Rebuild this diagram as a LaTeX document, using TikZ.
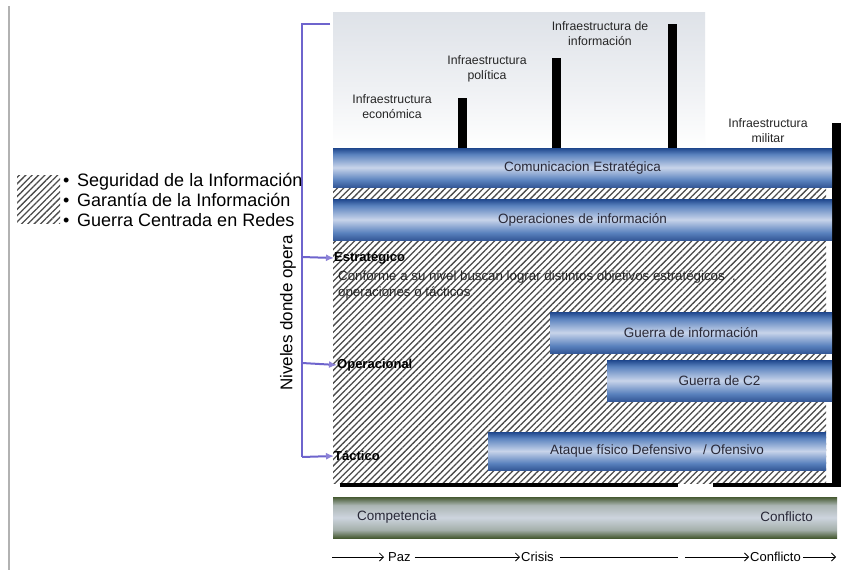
\documentclass[tikz,border=0pt]{standalone}
\usepackage{fontspec}
\setmainfont{Liberation Sans}
\usetikzlibrary{patterns.meta,arrows.meta}
\definecolor{purp}{RGB}{110,100,205}
\definecolor{purpl}{RGB}{140,130,215}
\definecolor{bdark}{RGB}{30,70,140}
\definecolor{bmid}{RGB}{90,130,190}
\definecolor{blight}{RGB}{200,212,234}
\definecolor{gdark}{RGB}{70,90,50}
\definecolor{glight}{RGB}{205,212,222}
\definecolor{hatchc}{RGB}{75,75,75}
\definecolor{txt}{RGB}{40,40,55}
\definecolor{topgray}{RGB}{222,226,232}
% note: y axis is flipped in the picture, so 0bp is the top edge on the page
\pgfdeclareverticalshading{blueband}{100bp}{color(0bp)=(bdark!90!white); color(25bp)=(bdark!90!white); color(34bp)=(bmid); color(50bp)=(blight); color(67bp)=(bmid); color(75bp)=(bdark); color(100bp)=(bdark)}
\pgfdeclareverticalshading{greenband}{100bp}{color(0bp)=(gdark); color(25bp)=(gdark); color(35bp)=(glight!70!gdark); color(50bp)=(glight); color(65bp)=(glight!75!gdark); color(75bp)=(gdark); color(100bp)=(gdark)}
\pgfdeclareverticalshading{topfade}{100bp}{color(0bp)=(white); color(25bp)=(white); color(45bp)=(topgray!45!white); color(75bp)=(topgray); color(100bp)=(topgray)}
\tikzset{
  band/.style={shading=blueband, draw=none, inner sep=0pt, outer sep=0pt, anchor=north west,
    font=\fontsize{13.5}{15}\selectfont, text=txt},
  gband/.style={shading=greenband, draw=none, inner sep=0pt, outer sep=0pt, anchor=north west},
  gtext/.style={font=\fontsize{13.5}{15}\selectfont, text=txt, inner sep=0pt},
  infra/.style={font=\fontsize{12.3}{15}\selectfont, align=center, text=black!85, inner sep=0pt},
  hatchfill/.style={pattern={Lines[angle=45,distance=4.5pt,line width=1.3pt]}, pattern color=hatchc},
  level/.style={font=\bfseries\fontsize{13}{15}\selectfont, anchor=west, inner sep=0pt},
  desc/.style={font=\fontsize{13.3}{16}\selectfont, anchor=west, align=left, inner sep=0pt, text=black!85},
  bracketline/.style={draw=purp, line width=2pt},
  lvlarrow/.style={draw=purp, line width=2pt, -{Latex[length=8pt,width=7pt,color=purpl]}},
  legtext/.style={font=\fontsize{18}{20}\selectfont, anchor=west, inner sep=0pt},
  axtext/.style={font=\fontsize{13}{15}\selectfont, inner sep=0pt},
  axline/.style={draw=black, line width=0.8pt, -{Straight Barb[length=4pt,width=8pt]}},
  axplain/.style={draw=black, line width=0.8pt}
}
\begin{document}
\begin{tikzpicture}[x=1pt,y=-1pt]
\useasboundingbox (0,0) rectangle (841,570);
\fill[white] (0,0) rectangle (841,570);
% left gray line
\draw[gray!60, line width=1.2pt] (9,6) -- (9,570);
% top gray area
\shade[shading=topfade] (333,12) rectangle (705,148);
% infrastructure bars
\fill[black] (458,98) rectangle (467,148);
\fill[black] (552,58) rectangle (561,148);
\fill[black] (668,24) rectangle (677,148);
\fill[black] (832,123) rectangle (841,487);
% infra labels
\node[infra] (ie) at (392,107) {Infraestructura\\económica};
\node[infra] (ip) at (487,69) {Infraestructura\\política};
\node[infra] (ii) at (600,34) {Infraestructura de\\información};
\node[infra, fill=white, minimum width=124pt, minimum height=35pt] (im) at (768,131) {Infraestructura\\militar};
% hatched region
\fill[white] (333,187) rectangle (832,483);
\fill[hatchfill] (333,187) rectangle (826,483);
% bands
\node[band, minimum width=499pt, minimum height=39pt] (com) at (333,148) {Comunicacion Estratégica};
\node[band, minimum width=499pt, minimum height=41pt] (ops) at (333,199) {Operaciones de información};
\node[band, minimum width=282pt, minimum height=41pt] (gi) at (550,312) {Guerra de información};
\node[band, minimum width=225pt, minimum height=41pt] (gc) at (607,360) {Guerra de C2};
\node[band, minimum width=338pt, minimum height=38pt] (at) at (488,432) {Ataque físico Defensivo\ \ \ / Ofensivo};
% bottom black line
\fill[black] (340,483) rectangle (678,487);
\fill[black] (713,483) rectangle (841,487);
% level labels
\node[level] (estr) at (334,258) {Estratégico};
\node[desc] (dsc) at (338,285) {Conforme a su nivel buscan lograr distintos objetivos estratégicos\ \ ,\\operaciones o tácticos};
\node[level] (oper) at (337,365) {Operacional};
\node[level] (tact) at (334,456) {Táctico};
% purple bracket
\coordinate (btop) at (330,24);
\coordinate (bv) at (302,24);
\coordinate (bE) at (302,257);
\coordinate (bO) at (302,363);
\coordinate (bT) at (302,457);
\draw[bracketline] (btop) -- (bv) -- (bT);
\draw[lvlarrow] (bE) -- (estr.west);
\draw[lvlarrow] (bO) -- (oper.west);
\draw[lvlarrow] (bT) -- (tact.west);
\node[font=\fontsize{17}{19}\selectfont, rotate=90, inner sep=0pt] (niv) at (288,313) {Niveles donde opera};
% legend
\fill[hatchfill] (17,175) rectangle (60,223);
\node[legtext] (l1) at (63,182) {\makebox[14pt][l]{\textbullet}Seguridad de la Información};
\node[legtext] (l2) at (63,200) {\makebox[14pt][l]{\textbullet}Garantía de la Información};
\node[legtext] (l3) at (63,220) {\makebox[14pt][l]{\textbullet}Guerra Centrada en Redes};
% green band
\node[gband, minimum width=504pt, minimum height=41pt] (gb) at (333,497) {};
\node[gtext, anchor=west] (compe) at (357,517) {Competencia};
\node[gtext, anchor=east] (confl) at (813,517) {Conflicto};
% axis
\coordinate (a0) at (332,557);
\node[axtext, anchor=west] (paz) at (388,557) {Paz};
\node[axtext, anchor=west] (cri) at (521,557) {Crisis};
\coordinate (g1) at (678,557);
\coordinate (g2) at (685,557);
\node[axtext, anchor=west] (con) at (750,557) {Conflicto};
\coordinate (a9) at (836,557);
\draw[axline] (a0) -- ([xshift=-4pt]paz.west);
\draw[axline] ([xshift=4pt]paz.east) -- ([xshift=-1pt]cri.west);
\draw[axplain] ([xshift=6pt]cri.east) -- (g1);
\draw[axline] (g2) -- ([xshift=-1pt]con.west);
\draw[axline] ([xshift=2pt]con.east) -- (a9);
\end{tikzpicture}
\end{document}
